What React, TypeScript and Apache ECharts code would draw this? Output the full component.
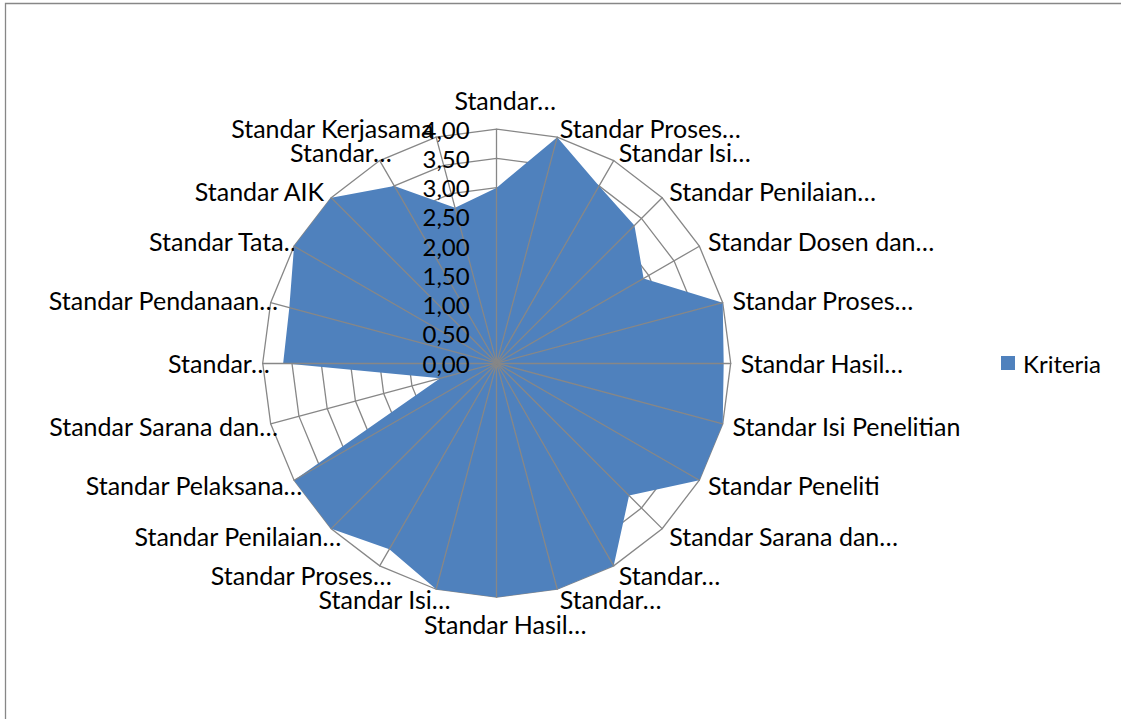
import React, { useEffect, useRef } from "react";
import * as echarts from "echarts";

// Categories, clockwise from the top
const categories: string[] = [
  "Standar…",
  "Standar Proses…",
  "Standar Isi…",
  "Standar Penilaian…",
  "Standar Dosen dan…",
  "Standar Proses…",
  "Standar Hasil…",
  "Standar Isi Penelitian",
  "Standar Peneliti",
  "Standar Sarana dan…",
  "Standar…",
  "Standar…",
  "Standar Hasil…",
  "Standar Isi…",
  "Standar Proses…",
  "Standar Penilaian…",
  "Standar Pelaksana…",
  "Standar Sarana dan…",
  "Standar…",
  "Standar Pendanaan…",
  "Standar Tata…",
  "Standar AIK",
  "Standar…",
  "Standar Kerjasama",
];

const kriteria: number[] = [
  3.0, 4.0, 3.5, 3.33, 2.9, 4.0, 3.88, 4.0, 4.0, 3.2, 4.0, 4.0,
  4.0, 4.0, 3.67, 4.0, 4.0, 1.0, 3.65, 3.67, 4.0, 4.0, 3.5, 2.75,
];

const tickLabels: string[] = ["0,00", "0,50", "1,00", "1,50", "2,00", "2,50", "3,00", "3,50", "4,00"];
const axisMin = 0;
const axisMax = 4;
const seriesName = "Kriteria";

const FONT = "Lato";
const GRID = "#878787";
const BLUE = "#4F81BD";

export default function App() {
  const ref = useRef<HTMLDivElement>(null);

  useEffect(() => {
    if (!ref.current) return;
    const chart = echarts.init(ref.current, undefined, { renderer: "svg" });
    const n = categories.length;
    // ECharts places indicators counter-clockwise; reverse to get clockwise order
    const order = [0, ...Array.from({ length: n - 1 }, (_, k) => n - 1 - k)];
    const step = (axisMax - axisMin) / (tickLabels.length - 1);

    const baseIndicators = order.map((i) => {
      const deg = (i * 360) / n;
      const trunc = categories[i].endsWith("…");
      const ind: any = { name: categories[i], min: axisMin, max: axisMax };
      if (deg === 0 || deg === 180) {
        ind.nameGap = deg === 0 ? 17 : 14;
        if (trunc) ind.nameTextStyle = { padding: [0, 0, 0, 17] };
      } else if (trunc && deg > 180) {
        ind.nameTextStyle = { padding: [0, -17, 0, 0] };
      }
      return ind;
    });

    const spokeIndicators = order.map((i) => {
      const ind: any = { name: categories[i], min: axisMin, max: axisMax };
      if (i === 0) {
        ind.axisLabel = {
          show: true,
          margin: 27,
          color: "#000",
          fontSize: 24,
          fontFamily: FONT,
          formatter: (v: number) => tickLabels[Math.round((v - axisMin) / step)] ?? "",
        };
      }
      return ind;
    });

    const center = [496.7, 363.2];
    const radius = 234;

    chart.setOption({
      animation: false,
      backgroundColor: "#fff",
      textStyle: { fontFamily: FONT },
      graphic: [
        {
          type: "rect",
          silent: true,
          shape: { x: 5.5, y: 3.5, width: 1400, height: 1000 },
          style: { fill: "none", stroke: GRID, lineWidth: 1.3 },
        },
      ],
      legend: {
        orient: "vertical",
        left: 1001,
        top: 351,
        padding: 0,
        icon: "rect",
        itemWidth: 14,
        itemHeight: 14,
        data: [seriesName],
        textStyle: { color: "#000", fontSize: 24, fontFamily: FONT, padding: [0, 0, 0, 3] },
      },
      radar: [
        {
          center,
          radius,
          startAngle: 90,
          shape: "polygon",
          splitNumber: tickLabels.length - 1,
          indicator: baseIndicators,
          nameGap: 10,
          axisName: { color: "#000", fontSize: 25, fontFamily: FONT },
          splitLine: { show: true, lineStyle: { color: GRID, width: 1.3 } },
          splitArea: { show: false },
          axisLine: { show: false },
          axisTick: { show: false },
          axisLabel: { show: false },
          z: 0,
        },
        {
          center,
          radius,
          startAngle: 90,
          shape: "polygon",
          splitNumber: tickLabels.length - 1,
          indicator: spokeIndicators,
          axisName: { show: false },
          splitLine: { show: false },
          splitArea: { show: false },
          axisLine: { show: true, lineStyle: { color: GRID, width: 1.3 } },
          axisTick: { show: false },
          axisLabel: { show: false },
          z: 5,
        },
      ],
      series: [
        {
          type: "radar",
          radarIndex: 0,
          name: seriesName,
          symbol: "none",
          color: BLUE,
          lineStyle: { width: 0, color: BLUE },
          areaStyle: { color: BLUE, opacity: 1 },
          data: [{ name: seriesName, value: order.map((i) => kriteria[i]) }],
        },
      ],
    });
    return () => chart.dispose();
  }, []);

  return (
    <div
      ref={ref}
      style={{ position: "fixed", left: 0, top: 0, width: 1121, height: 719 }}
    />
  );
}
